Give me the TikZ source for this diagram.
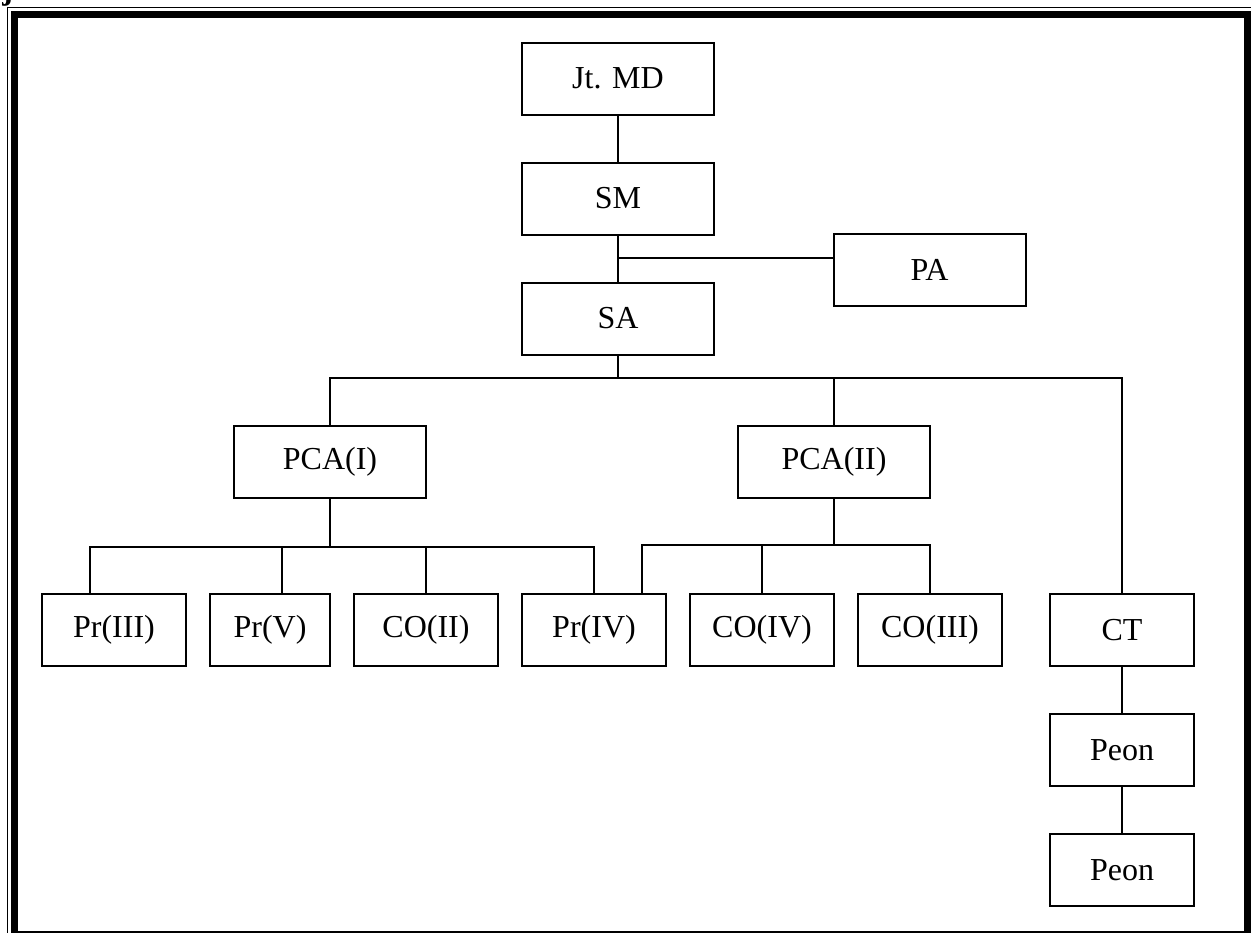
\documentclass[tikz,border=0pt]{standalone}
\usepackage{fontspec}
\setmainfont{Liberation Serif}
\usepackage{tikz}
\usetikzlibrary{positioning,calc}
\tikzset{post/.style={draw, line width=1pt, rectangle, inner sep=0pt, minimum width=96pt, minimum height=36pt, node font=\fontsize{16}{19}\selectfont}}
\tikzset{unit/.style={post, minimum width=72pt}}
\tikzset{link/.style={line width=1pt}}
\tikzset{frame/.style={line width=3.5pt}}

\begin{document}
\begin{tikzpicture}[x=0.5pt, y=-0.5pt]
        \useasboundingbox (0,0) rectangle (1251,932);
        \node (frag) [anchor=base west, inner sep=0pt, font=\fontsize{16}{19}\selectfont\bfseries] at (2,-1) {j};
        \draw[line width=0.5pt] (7,940) -- (7,7) -- (1262,7);
        \draw[frame] (14,14.5) rectangle (1247,934);
        \node (jt) [post] at (618,78.5) {Jt. MD};
        \node (sm) [post, below=23pt of jt] {SM};
        \node (sa) [post, below=23pt of sm] {SA};
        \node (pa) [post] at (929.5,270) {PA};
        \node (pca1) [post] at (330,462) {PCA(I)};
        \node (pca2) [post] at (834,462) {PCA(II)};
        \node (pr3) [unit] at (114,630) {Pr(III)};
        \node (pr5) [unit, minimum width=60pt, right=11pt of pr3] {Pr(V)};
        \node (co2) [unit, right=11pt of pr5] {CO(II)};
        \node (pr4) [unit, right=11pt of co2] {Pr(IV)};
        \node (co4) [unit, right=11pt of pr4] {CO(IV)};
        \node (co3) [unit, right=11pt of co4] {CO(III)};
        \node (ct) [unit] at (1122,630) {CT};
        \node (peon1) [unit, below=23pt of ct] {Peon};
        \node (peon2) [unit, below=23pt of peon1] {Peon};
        \coordinate (tap) at (618,258);
        \coordinate (busA) at (618,378);
        \coordinate (busB) at (330,547);
        \coordinate (busC) at (642,545);
        \coordinate (tap3) at (90,547);
        \coordinate (tap5) at (282,547);
        \draw[link] (jt) -- (sm);
        \draw[link] (sm) -- (sa);
        \draw[link] (tap) -- (tap -| pa.west);
        \draw[link] (sa) -- (busA);
        \draw[link] (pca1.north) |- (ct.north |- busA) -- (ct.north);
        \draw[link] (pca2.north) -- (pca2.north |- busA);
        \draw[link] (pca1) -- (busB);
        \draw[link] (tap3 |- pr3.north) -- (tap3) -- (pr4.north |- busB) -- (pr4.north);
        \draw[link] (tap5 |- pr5.north) -- (tap5);
        \draw[link] (co2.north) -- (co2.north |- busB);
        \draw[link] (pca2) -- (pca2 |- busC);
        \draw[link] (busC |- pr4.north) -- (busC) -| (co3.north);
        \draw[link] (co4.north) -- (co4.north |- busC);
        \draw[link] (ct) -- (peon1);
        \draw[link] (peon1) -- (peon2);
\end{tikzpicture}
\end{document}
